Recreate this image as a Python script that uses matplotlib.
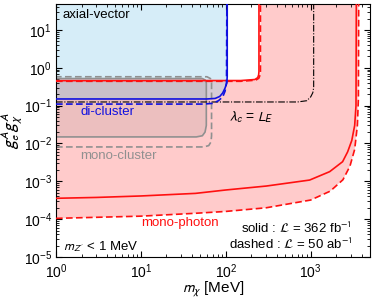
import numpy as np
import matplotlib
matplotlib.use("Agg")
import matplotlib.pyplot as plt
from matplotlib.ticker import LogLocator, NullFormatter

plt.rcParams['font.family'] = ['Liberation Sans', 'DejaVu Sans']
plt.rcParams['mathtext.fontset'] = 'stixsans'

# mono-photon, solid (362 fb^-1) lower branch
mp_lo_x = [1, 3, 10, 44, 100, 300, 973, 1674, 2378, 2725, 3050, 3300, 3420, 3450]
mp_lo_y = [3.56e-4, 3.75e-4, 4.1e-4, 4.8e-4, 5.9e-4, 7.5e-4, 1.08e-3, 1.8e-3, 3.3e-3,
           6e-3, 1.2e-2, 3e-2, 1e-1, 50]
# mono-photon, solid upper branch
mp_up_x = [1, 150, 220, 238, 244, 246, 246]
mp_up_y = [0.457, 0.46, 0.49, 0.55, 0.65, 0.8, 50]
# mono-photon, dashed (50 ab^-1)
mpd_lo_x = [1, 10, 44, 100, 300, 1000, 1700, 2400, 2900, 3300, 3550, 3650, 3680]
mpd_lo_y = [1.05e-4, 1.2e-4, 1.43e-4, 1.6e-4, 2.0e-4, 3.2e-4, 5.5e-4, 1.1e-3, 2.5e-3,
            7e-3, 3e-2, 1.5e-1, 50]
mpd_up_x = [1, 150, 225, 245, 254, 256, 256]
mpd_up_y = [0.44, 0.44, 0.47, 0.53, 0.65, 0.8, 50]

# di-cluster
dc_x = [1, 60, 75, 85, 92, 98, 103, 104, 104]
dc_y = [0.15, 0.15, 0.155, 0.175, 0.216, 0.29, 0.40, 0.6, 50]
dcd_x = [1, 55, 70, 82, 92, 98, 102, 103]
dcd_y = [0.11, 0.11, 0.115, 0.135, 0.17, 0.24, 0.4, 50]

# mono-cluster (closed contours)
mc_x = [1, 45, 53, 57, 59, 59, 57, 53, 1]
mc_y = [0.0149, 0.0149, 0.016, 0.02, 0.03, 0.4, 0.48, 0.52, 0.52]
mcd_x = [1, 55, 63, 67, 68, 68, 66, 60, 1]
mcd_y = [0.0081, 0.0081, 0.0088, 0.011, 0.016, 0.4, 0.52, 0.58, 0.58]

# lambda_c = L_E
lam_x = [1, 700, 900, 1000, 1060, 1085, 1085]
lam_y = [0.125, 0.125, 0.135, 0.17, 0.22, 0.3, 50]

red = '#ff1010'
blue = '#1010e0'
gray = '#909090'

fig = plt.figure(figsize=(3.74, 2.98), dpi=100)
ax = fig.add_axes([0.1497, 0.1376, 0.8396, 0.8506])

# fills
ax.fill(np.concatenate([mpd_lo_x, mpd_up_x[::-1]]),
        np.concatenate([mpd_lo_y, mpd_up_y[::-1]]),
        color=(1.0, 0.2, 0.2), alpha=0.25, lw=0, zorder=1)
ax.fill(np.concatenate([dc_x, [1]]), np.concatenate([dc_y, [50]]),
        color=(0.55, 0.8, 0.93), alpha=0.35, lw=0, zorder=1)
ax.fill(mc_x, mc_y, color='gray', alpha=0.15, lw=0, zorder=1)

# lines
ax.plot(mp_lo_x, mp_lo_y, color=red, lw=1.2, zorder=3)
ax.plot(mp_up_x, mp_up_y, color=red, lw=1.2, zorder=3)
ax.plot(mpd_lo_x, mpd_lo_y, color=red, lw=1.2, ls=(0, (4, 2)), zorder=3)
ax.plot(mpd_up_x, mpd_up_y, color=red, lw=1.2, ls=(0, (4, 2)), zorder=3)
ax.plot(dc_x, dc_y, color=blue, lw=1.2, zorder=3)
ax.plot(dcd_x, dcd_y, color=blue, lw=1.2, ls=(0, (4, 2)), zorder=3)
ax.plot(mc_x, mc_y, color=gray, lw=1.2, zorder=2)
ax.plot(mcd_x, mcd_y, color=gray, lw=1.2, ls=(0, (4, 2)), zorder=2)
ax.plot(lam_x, lam_y, color='black', lw=0.8, ls=(0, (6, 1.5, 1, 1.5)), zorder=2)

ax.set_xscale('log')
ax.set_yscale('log')
ax.set_xlim(1, 5000)
ax.set_ylim(1e-5, 50)

for a in (ax.xaxis, ax.yaxis):
    a.set_major_locator(LogLocator(base=10, numticks=20))
    a.set_minor_locator(LogLocator(base=10, subs=np.arange(2, 10), numticks=20))
    a.set_minor_formatter(NullFormatter())
ax.tick_params(which='both', direction='in', top=True, right=True, labelsize=10)
ax.tick_params(axis='x', which='both', pad=4)
ax.tick_params(axis='y', which='both', pad=3)
ax.tick_params(which='major', length=4, width=0.8)
ax.tick_params(which='minor', length=2, width=0.6)

ax.set_xlabel(r'$m_\chi$ [MeV]', fontsize=11, labelpad=-0.5)
ax.set_ylabel(r'$g_e^A g_\chi^A$', fontsize=12, labelpad=-1)

fs = 9.5
ax.text(0.022, 0.955, 'axial-vector', transform=ax.transAxes, fontsize=fs,
        ha='left', va='center')
ax.text(4.0, 0.068, 'di-cluster', color=blue, fontsize=fs, ha='center', va='center')
ax.text(5.5, 4.7e-3, 'mono-cluster', color=gray, fontsize=fs, ha='center', va='center')
ax.text(28.8, 7.9e-5, 'mono-photon', color=red, fontsize=fs, ha='center', va='center')
ax.text(197, 0.05, r'$\lambda_c$ = $L_E$', fontsize=fs + 0.5, ha='center', va='center')
ax.text(0.022, 0.04, r"$m_{Z'}$ < 1 MeV", transform=ax.transAxes, fontsize=fs,
        ha='left', va='center')
ax.text(0.943, 0.112, r'solid : $\mathcal{L}$ = 362 fb$^{-1}$', transform=ax.transAxes,
        fontsize=fs, ha='right', va='center')
ax.text(0.943, 0.050, r'dashed : $\mathcal{L}$ = 50 ab$^{-1}$', transform=ax.transAxes,
        fontsize=fs, ha='right', va='center')

fig.savefig('out.png', dpi=100)
